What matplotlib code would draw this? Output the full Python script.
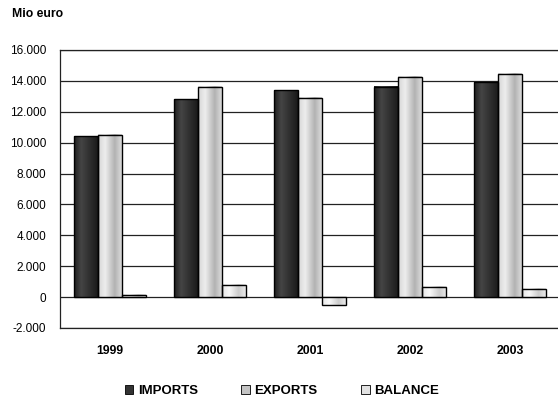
import numpy as np
import matplotlib
matplotlib.use("Agg")
import matplotlib.pyplot as plt
from matplotlib.patches import Patch

plt.rcParams['font.family'] = ['Liberation Sans', 'DejaVu Sans']

years = ['1999', '2000', '2001', '2002', '2003']
imports = [10400, 12800, 13400, 13600, 13900]
exports = [10500, 13600, 12900, 14250, 14450]
balance = [150, 800, -500, 650, 550]

# gradient stops (position, gray level 0..1) for each series
shades = {
    'IMPORTS': ([0.0, 0.3, 0.75, 1.0], [0.12, 0.27, 0.16, 0.10]),
    'EXPORTS': ([0.0, 0.3, 0.7, 1.0], [0.84, 0.93, 0.70, 0.86]),
    'BALANCE': ([0.0, 0.3, 0.7, 1.0], [0.90, 0.98, 0.80, 0.92]),
}
legend_col = {'IMPORTS': '#333333', 'EXPORTS': '#c4c4c4', 'BALANCE': '#e2e2e2'}

W, H = 558, 401
fig = plt.figure(figsize=(W / 100, H / 100), dpi=100)
ax = fig.add_axes([60 / W, 1 - 328 / H, 500 / W, 278 / H])

x = np.arange(len(years))
bw = 0.24


def grad_bars(xpos, vals, name):
    pos, lev = shades[name]
    t = np.linspace(0, 1, 64)
    g = np.interp(t, pos, lev)
    img = np.dstack([g, g, g])  # shape (1, 64, 3)
    for xc, v in zip(xpos, vals):
        ax.imshow(img, extent=(xc - bw / 2, xc + bw / 2, min(0, v), max(0, v)),
                  origin='lower', aspect='auto', zorder=2, interpolation='bilinear')
    ax.bar(xpos, vals, width=bw, facecolor='none', edgecolor='black',
           linewidth=1.0, zorder=3)


grad_bars(x - bw, imports, 'IMPORTS')
grad_bars(x, exports, 'EXPORTS')
grad_bars(x + bw, balance, 'BALANCE')

ax.set_xlim(-0.5, 4.5)
ax.set_ylim(-2000, 16000)
ax.set_yticks(np.arange(-2000, 16001, 2000))
ax.set_yticklabels([f"{v:,}".replace(',', '.') for v in range(-2000, 16001, 2000)])
ax.set_xticks(x)
ax.set_xticklabels(years, fontweight='bold')
ax.tick_params(length=0)
ax.tick_params(axis='y', pad=10, labelsize=8.5)
ax.tick_params(axis='x', pad=12, labelsize=8.8)
ax.yaxis.grid(True, color='#222222', linewidth=0.9, zorder=0.5)
ax.set_axisbelow(True)
ax.spines['right'].set_visible(False)
for s in ['left', 'bottom', 'top']:
    ax.spines[s].set_color('#222222')
    ax.spines[s].set_linewidth(0.9)

fig.text(12 / W, 1 - 14 / H, 'Mio euro', fontsize=8.8, fontweight='bold',
         va='center', ha='left')

handles = [Patch(facecolor=legend_col[n], edgecolor='black', linewidth=0.6, label=n)
           for n in ['IMPORTS', 'EXPORTS', 'BALANCE']]
fig.legend(handles=handles, loc='center', bbox_to_anchor=(282 / W, 1 - 391 / H),
           ncol=3, frameon=False, handlelength=0.65, handleheight=0.65,
           handletextpad=0.35, columnspacing=3.3,
           prop={'weight': 'bold', 'size': 9.5})

fig.savefig('out.png', dpi=100)
